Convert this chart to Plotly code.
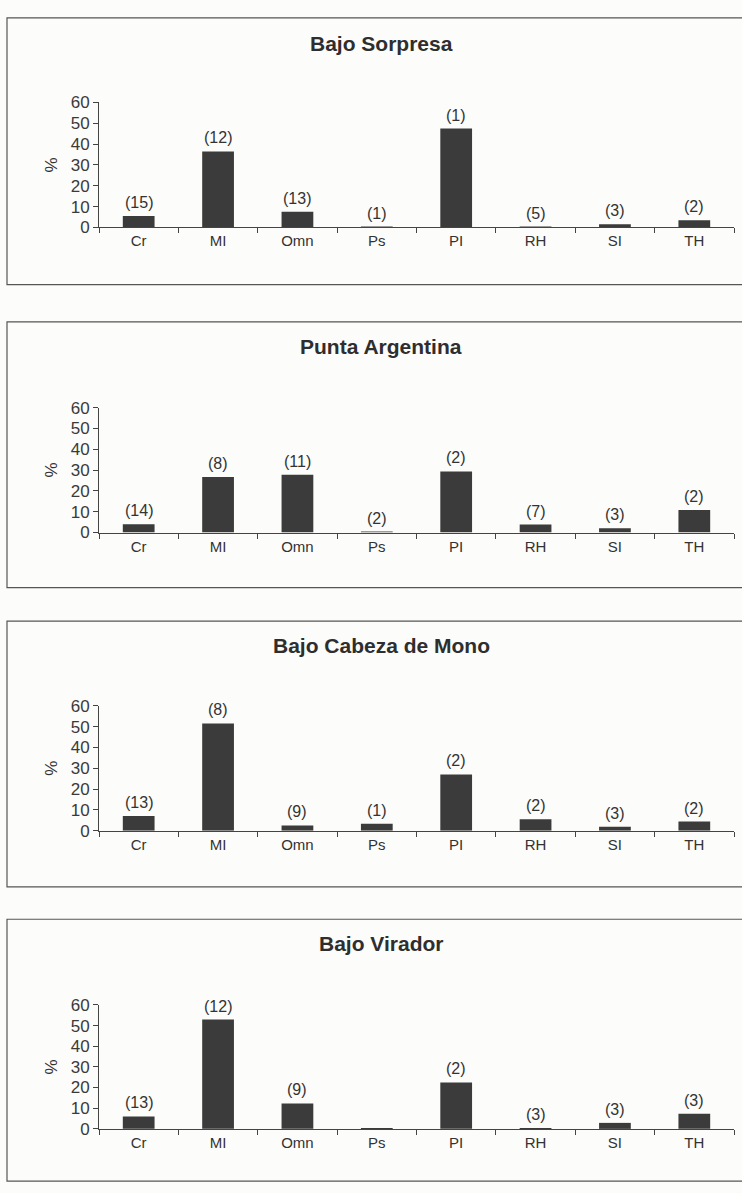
import plotly.graph_objects as go

categories = ["Cr", "MI", "Omn", "Ps", "PI", "RH", "SI", "TH"]
panel_titles = ["Bajo Sorpresa", "Punta Argentina", "Bajo Cabeza de Mono", "Bajo Virador"]

bajo_sorpresa = [5.5, 36.5, 7.6, 0.3, 47.5, 0.3, 1.6, 3.5]
punta_argentina = [4.0, 26.7, 27.7, 0.3, 29.3, 3.8, 2.0, 10.8]
bajo_cabeza_de_mono = [7.1, 51.5, 2.5, 3.3, 27.0, 5.5, 1.9, 4.4]
bajo_virador = [6.0, 52.9, 12.3, 0.3, 22.5, 0.3, 2.9, 7.3]

n_sorpresa = ["(15)", "(12)", "(13)", "(1)", "(1)", "(5)", "(3)", "(2)"]
n_argentina = ["(14)", "(8)", "(11)", "(2)", "(2)", "(7)", "(3)", "(2)"]
n_cabeza = ["(13)", "(8)", "(9)", "(1)", "(2)", "(2)", "(3)", "(2)"]
n_virador = ["(13)", "(12)", "(9)", "", "(2)", "(3)", "(3)", "(3)"]

y_ticks = [0, 10, 20, 30, 40, 50, 60]

values = [bajo_sorpresa, punta_argentina, bajo_cabeza_de_mono, bajo_virador]
labels = [n_sorpresa, n_argentina, n_cabeza, n_virador]

W, H = 742, 1193
FONT = "Liberation Sans Narrow, Arial Narrow, Liberation Sans, Arial, sans-serif"
TXT = "#333333"
BAR = "#3b3b3b"

# pixel layout (top of plot area, bottom of plot area, box top, box bottom, title y)
panels_px = [
    (95, 222, 9, 280, 35),
    (405, 532, 318, 588, 343),
    (708, 835, 622, 892, 647),
    (1012, 1138, 925, 1191, 950),
]
x_left, x_right = 99, 734

def py(p):
    return 1 - p / H

fig = go.Figure()
shapes = []
annotations = []

for i, (vals, labs, title, (pt, pb, bt, bb, ty)) in enumerate(
        zip(values, labels, panel_titles, panels_px)):
    k = "" if i == 0 else str(i + 1)
    fig.add_trace(go.Bar(
        x=categories, y=vals, xaxis="x" + k, yaxis="y" + k,
        marker=dict(color=BAR, line=dict(width=0)),
        showlegend=False, hoverinfo="x+y",
    ))
    fig.update_layout(**{
        "xaxis" + k: dict(
            domain=[x_left / W, x_right / W], anchor="y" + k,
            type="category", categoryorder="array", categoryarray=categories,
            range=[-0.5, 7.5], showline=True, linecolor="#444", linewidth=1,
            ticks="outside", tickson="boundaries", ticklen=5, tickcolor="#444",
            tickfont=dict(family=FONT, size=15, color=TXT), showgrid=False,
            zeroline=False, fixedrange=True,
        ),
        "yaxis" + k: dict(
            domain=[py(pb), py(pt)], anchor="x" + k, range=[0, 60],
            tickvals=y_ticks, showline=True, linecolor="#444", linewidth=1,
            ticks="outside", ticklen=5, tickcolor="#444",
            tickfont=dict(family=FONT, size=17, color="#3a3a3a"), showgrid=False,
            zeroline=False, fixedrange=True,
            title=dict(text="%", font=dict(family=FONT, size=17, color=TXT), standoff=8),
        ),
    })
    for c, v, lab in zip(categories, vals, labs):
        if lab:
            annotations.append(dict(
                x=c, y=v, xref="x" + k, yref="y" + k, text=lab, showarrow=False,
                yanchor="bottom", yshift=3,
                font=dict(family=FONT, size=16, color=TXT),
            ))
    annotations.append(dict(
        x=381 / W, y=py(ty), xref="paper", yref="paper", text="<b>" + title + "</b>",
        showarrow=False, xanchor="center", yanchor="middle",
        font=dict(family="Liberation Sans Narrow, Arial Narrow, Liberation Sans, Arial", size=21, color="#2e2e2e"),
    ))
    shapes.append(dict(
        type="rect", xref="paper", yref="paper",
        x0=7 / W, x1=1.02, y0=py(bb), y1=py(bt),
        line=dict(color="#555", width=1.2), fillcolor="rgba(0,0,0,0)", layer="below",
    ))

fig.update_layout(
    width=W, height=H, margin=dict(l=0, r=0, t=0, b=0),
    paper_bgcolor="#fcfcfa", plot_bgcolor="rgba(0,0,0,0)",
    bargap=0.6, shapes=shapes, annotations=annotations,
    font=dict(family=FONT, color=TXT),
)

fig.write_html(
    "out.html",
    config={"displayModeBar": False},
    post_script="document.body.style.margin='0';document.body.style.padding='0';"
                "document.body.style.overflow='hidden';",
)
